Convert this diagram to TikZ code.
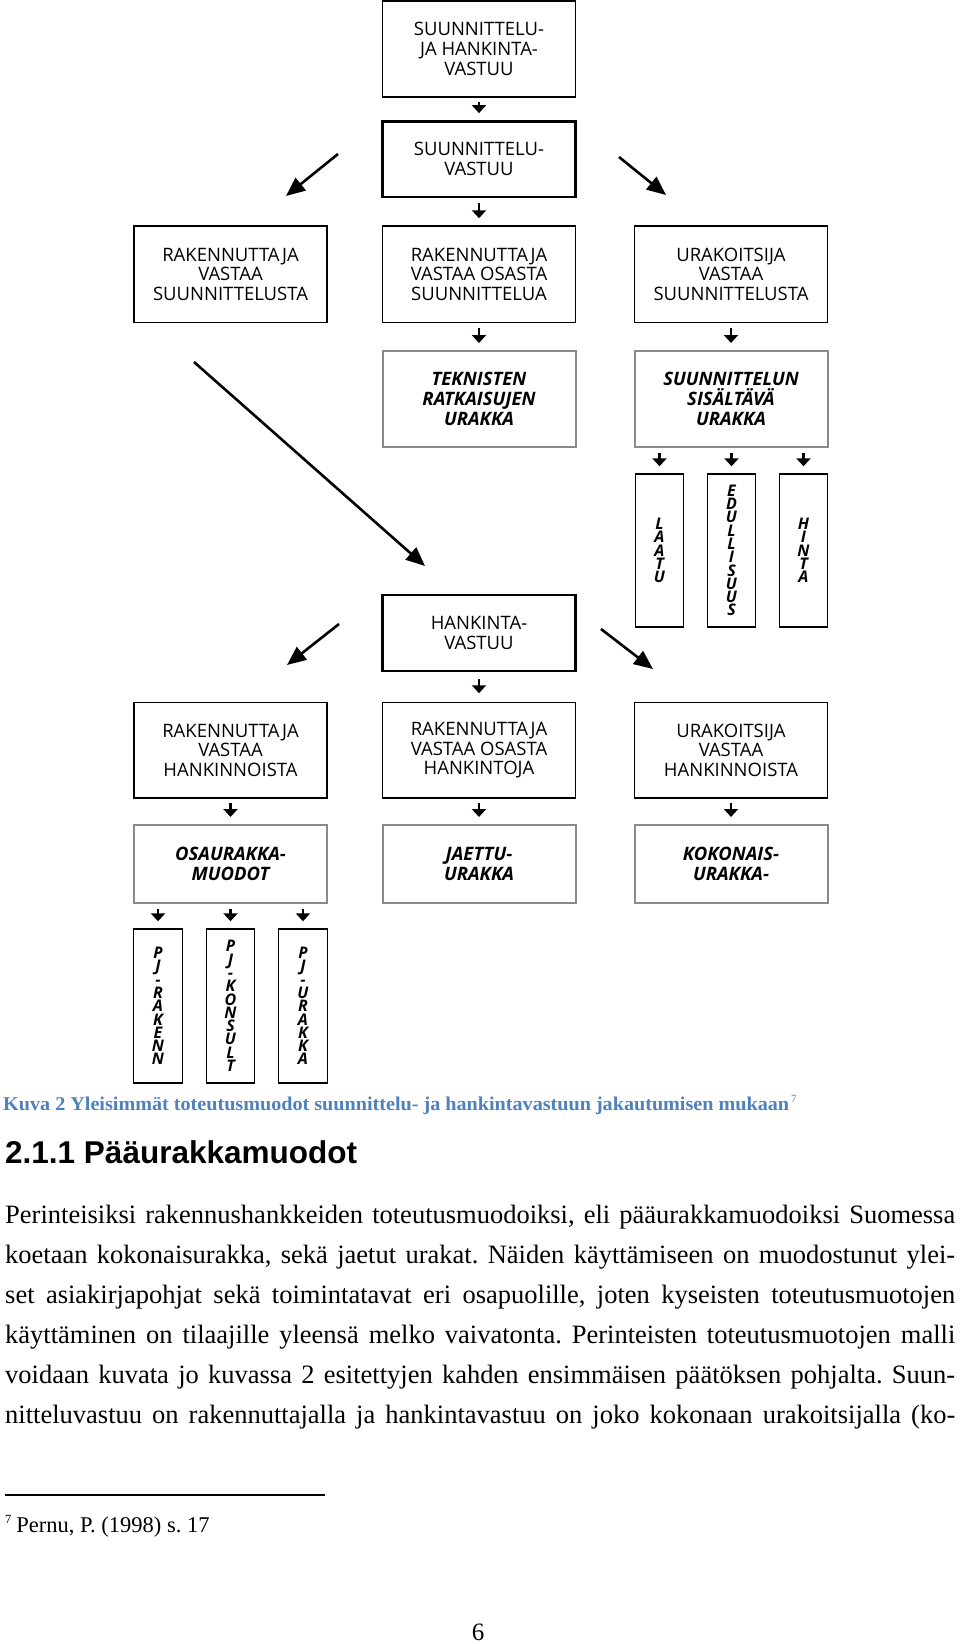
\documentclass[tikz,border=0pt]{standalone}
\usepackage{fontspec}
\usepackage{graphicx}
\setmainfont{Liberation Serif}
\newfontfamily\dgfont{Open Sans}
\newfontfamily\hdfont{Liberation Sans}
\usetikzlibrary{arrows.meta,calc}
\definecolor{bgray}{RGB}{138,138,138}
\definecolor{capblue}{RGB}{79,129,189}
\begin{document}
\frenchspacing
\begin{tikzpicture}[x=1pt,y=-1pt,
  bx/.style={draw=black, line width=1.4pt, minimum width=193pt, align=center, inner sep=0pt,
    font=\dgfont\fontsize{18.5}{19.7}\selectfont},
  bxk/.style={bx, line width=2.6pt},
  bxg/.style={bx, draw=bgray, line width=2pt, font=\dgfont\bfseries\itshape\fontsize{18.5}{19.7}\selectfont},
  tall/.style={draw=black, line width=1.4pt, minimum width=48.5pt, minimum height=153pt, align=center, inner sep=0pt,
    font=\dgfont\bfseries\itshape\fontsize{16}{13.3}\selectfont},
  sarr/.style={line width=2.2pt, -{Triangle[width=14pt,length=8pt]}, shorten <=4.5pt, shorten >=7pt},
  darr/.style={line width=2.6pt, -{Triangle[width=16pt,length=19pt]}},
  bodyline/.style={anchor=base west, inner sep=0pt, font=\fontsize{26.5}{40}\selectfont},
]
\fill[white] (0,0) rectangle (960,1644);
\useasboundingbox (0,0) rectangle (960,1644);

% column 1-3 boxes
\node[bx, minimum height=96pt] (b1) at (479,49) {SUUNNITTELU-\\JA HANKINTA-\\VASTUU};
\node[bxk, minimum height=75.5pt] (b2) at (479,159.2) {SUUNNITTELU-\\VASTUU};

\node[bx, minimum height=96.5pt] (r3l) at (230.5,274.2) {RAKENNUTTAJA\\VASTAA\\SUUNNITTELUSTA};
\node[bx, minimum height=96.5pt] (r3c) at (479,274.2) {RAKENNUTTAJA\\VASTAA OSASTA\\SUUNNITTELUA};
\node[bx, minimum height=96.5pt] (r3r) at (731,274.2) {URAKOITSIJA\\VASTAA\\SUUNNITTELUSTA};

\node[bxg, minimum height=96pt] (r4c) at (479,399) {TEKNISTEN\\RATKAISUJEN\\URAKKA};
\node[bxg, minimum height=96pt] (r4r) at (731,399) {SUUNNITTELUN\\SISÄLTÄVÄ\\URAKKA};

\node[tall] (laatu) at (659.5,550.5) {L\\A\\A\\T\\U};
\node[tall] (edull) at (731.5,550.5) {E\\D\\U\\L\\L\\I\\S\\U\\U\\S};
\node[tall] (hinta) at (803.5,550.5) {H\\I\\N\\T\\A};

\node[bxk, minimum height=76pt] (hank) at (479,633) {HANKINTA-\\VASTUU};

\node[bx, minimum height=95.5pt] (r6l) at (230.5,750.2) {RAKENNUTTAJA\\VASTAA\\HANKINNOISTA};
\node[bx, minimum height=95.5pt] (r6c) at (479,750.2) {RAKENNUTTAJA\\VASTAA OSASTA\\HANKINTOJA};
\node[bx, minimum height=95.5pt] (r6r) at (731,750.2) {URAKOITSIJA\\VASTAA\\HANKINNOISTA};

\node[bxg, minimum height=78pt] (r7l) at (230.5,864) {OSAURAKKA-\\MUODOT};
\node[bxg, minimum height=78pt] (r7c) at (479,864) {JAETTU-\\URAKKA};
\node[bxg, minimum height=78pt] (r7r) at (731,864) {KOKONAIS-\\URAKKA-};

\node[tall, minimum height=154pt] (pj1) at (158,1006) {P\\J\\-\\R\\A\\K\\E\\N\\N};
\node[tall, minimum height=154pt] (pj2) at (230.5,1006) {P\\J\\-\\K\\O\\N\\S\\U\\L\\T};
\node[tall, minimum height=154pt] (pj3) at (303,1006) {P\\J\\-\\U\\R\\A\\K\\K\\A};

% small arrows
\draw[sarr] (b1.south) -- (b2.north);
\draw[sarr] (b2.south) -- (r3c.north);
\draw[sarr] (r3c.south) -- (r4c.north);
\draw[sarr] (r3r.south) -- (r4r.north);
\draw[sarr] (r4r.south -| laatu.north) -- (laatu.north);
\draw[sarr] (r4r.south -| edull.north) -- (edull.north);
\draw[sarr] (r4r.south -| hinta.north) -- (hinta.north);
\draw[sarr, shorten <=7pt, shorten >=8.5pt] (hank.south) -- (r6c.north);
\draw[sarr] (r6l.south) -- (r7l.north);
\draw[sarr] (r6c.south) -- (r7c.north);
\draw[sarr] (r6r.south) -- (r7r.north);
\draw[sarr] (r7l.south -| pj1.north) -- (pj1.north);
\draw[sarr] (r7l.south -| pj2.north) -- (pj2.north);
\draw[sarr] (r7l.south -| pj3.north) -- (pj3.north);

% diagonal arrows
\coordinate (d1s) at (338,154); \coordinate (d1e) at (286,196);
\coordinate (d2s) at (619,157); \coordinate (d2e) at (666,195);
\coordinate (lds) at (194,362); \coordinate (lde) at (425,566);
\coordinate (d3s) at (339,624); \coordinate (d3e) at (287,665);
\coordinate (d4s) at (601,629); \coordinate (d4e) at (653,669);
\draw[darr] (d1s) -- (d1e);
\draw[darr] (d2s) -- (d2e);
\draw[darr] (lds) -- (lde);
\draw[darr] (d3s) -- (d3e);
\draw[darr] (d4s) -- (d4e);

% caption
\node[anchor=base west, inner sep=0pt, text=capblue] (cap) at (3,1110)
  {\resizebox{786pt}{\height}{\bfseries\fontsize{19.5}{19.5}\selectfont Kuva 2 Yleisimmät toteutusmuodot suunnittelu- ja hankintavastuun jakautumisen mukaan}\hspace{2pt}\raisebox{8pt}{\fontsize{11}{11}\selectfont 7}};

% heading
\node[anchor=base west, inner sep=0pt] (head) at (5,1163)
  {\hdfont\bfseries\fontsize{31.5}{31.5}\selectfont 2.1.1 Pääurakkamuodot};

% body
\node[bodyline] (t1) at (5,1223) {\makebox[950pt][s]{Perinteisiksi rakennushankkeiden toteutusmuodoiksi, eli pääurakkamuodoiksi Suomessa}};
\node[bodyline] (t2) at (5,1263) {\makebox[950pt][s]{koetaan kokonaisurakka, sekä jaetut urakat. Näiden käyttämiseen on muodostunut ylei-}};
\node[bodyline] (t3) at (5,1303) {\makebox[950pt][s]{set asiakirjapohjat sekä toimintatavat eri osapuolille, joten kyseisten toteutusmuotojen}};
\node[bodyline] (t4) at (5,1343) {\makebox[950pt][s]{käyttäminen on tilaajille yleensä melko vaivatonta. Perinteisten toteutusmuotojen malli}};
\node[bodyline] (t5) at (5,1383) {\makebox[950pt][s]{voidaan kuvata jo kuvassa 2 esitettyjen kahden ensimmäisen päätöksen pohjalta. Suun-}};
\node[bodyline] (t6) at (5,1423) {\makebox[950pt][s]{nitteluvastuu on rakennuttajalla ja hankintavastuu on joko kokonaan urakoitsijalla (ko-}};

% footnote
\draw[line width=1.2pt] (5,1495) -- (325,1495);
\node[anchor=base west, inner sep=0pt] (fn) at (5,1532)
  {\raisebox{9pt}{\fontsize{12.5}{12.5}\selectfont 7}\hspace{5pt}\fontsize{22.5}{22.5}\selectfont Pernu, P. (1998) s. 17};

% page number
\node[anchor=base, inner sep=0pt] (pg) at (478,1640) {\fontsize{25}{25}\selectfont 6};
\end{tikzpicture}
\end{document}
